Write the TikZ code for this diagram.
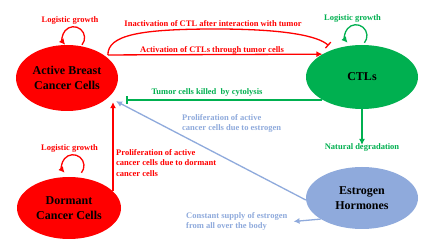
\documentclass[tikz,border=0pt]{standalone}
\usepackage{fontspec}
\setmainfont{Liberation Serif}
\usetikzlibrary{shapes.geometric,arrows.meta,calc}
\definecolor{cred}{HTML}{FF0000}
\definecolor{cgreen}{HTML}{00B050}
\definecolor{cblue}{HTML}{8FAADC}
\begin{document}
\begin{tikzpicture}[x=1pt,y=-1pt,
  cell/.style={ellipse, inner sep=0pt, font=\fontsize{12}{14.5}\selectfont\bfseries, align=center, text=black},
  lab/.style={font=\fontsize{8.5}{10.8}\selectfont\bfseries, inner sep=1pt},
  conn/.style={line width=1.3pt},
  tip/.style={-{Latex[length=6pt,width=6pt]}},
  inh/.style={-{Bar[width=8pt,line width=1.3pt]}}]
\useasboundingbox (0,0) rectangle (432,243);
\fill[white] (0,0) rectangle (432,243);
% cells
\node[cell, fill=cred, minimum width=102pt, minimum height=66pt] (act) at (67,78) {Active Breast\\Cancer Cells};
\node[cell, fill=cgreen, minimum width=112pt, minimum height=64pt] (ctl) at (362,77) {CTLs};
\node[cell, fill=cred, minimum width=104pt, minimum height=62pt] (dor) at (69,208) {Dormant\\Cancer Cells};
\node[cell, fill=cblue, minimum width=112pt, minimum height=62pt] (est) at (362,198) {Estrogen\\Hormones};
% labels
\node[lab, text=cred] (lg1) at (70,20) {Logistic growth};
\node[lab, text=cgreen] (lg2) at (352.5,18) {Logistic growth};
\node[lab, text=cred] (lg3) at (69.5,148) {Logistic growth};
\node[lab, text=cred] (inact) at (213,24) {Inactivation of CTL after interaction with tumor};
\node[lab, text=cred] (actl) at (212,50) {Activation of CTLs through tumor cells};
\node[lab, text=cgreen] (cyto) at (207,92) {Tumor cells killed~ by cytolysis};
\node[lab, text=cgreen] (nd) at (362,147) {Natural degradation};
\node[lab, text=cred, align=left, anchor=north west] (pdor) at (115,148) {Proliferation of active\\cancer cells due to dormant\\cancer cells};
\node[lab, text=cblue, align=left, anchor=north west] (pest) at (181,113) {Proliferation of active\\cancer cells due to estrogen};
\node[lab, text=cblue, align=left, anchor=west] (sup) at (185,221.5) {Constant supply of estrogen\\from all over the body};
% self loops
\draw[conn, cred, tip] ([shift={(15,0)}]act.north) arc[start angle=40, end angle=-220, radius=11];
\draw[conn, cgreen, tip] ([shift={(2.4,-2)}]ctl.north) arc[start angle=40, end angle=-220, radius=11];
\draw[conn, cred, tip] ([shift={(12.4,-4)}]dor.north) arc[start angle=40, end angle=-220, radius=11];
% connectors
\draw[conn, cred, inh] ([xshift=4]act.32) .. controls +(0,-20) and (140,29) .. (216,29) .. controls (285,29) and (318,36) .. ([shift={(-4,-4)}]ctl.137);
\draw[conn, cred, tip] ([xshift=4]act.32) -- (ctl.150);
\draw[conn, cgreen, inh] (ctl.210) -- ([xshift=8]act.east |- ctl.210);
\draw[conn, cgreen, tip] (ctl.south) -- ([yshift=-3]nd.north);
\draw[conn, cred, tip] ([shift={(44,14)}]dor.north) -- ([shift={(46,-9)}]act.south);
\draw[conn, cblue, tip] ([yshift=-2]est.west) -- ([shift={(49,-10)}]act.south);
\draw[conn, cblue, tip] (est.207) -- ([xshift=5]sup.east);
\end{tikzpicture}
\end{document}
